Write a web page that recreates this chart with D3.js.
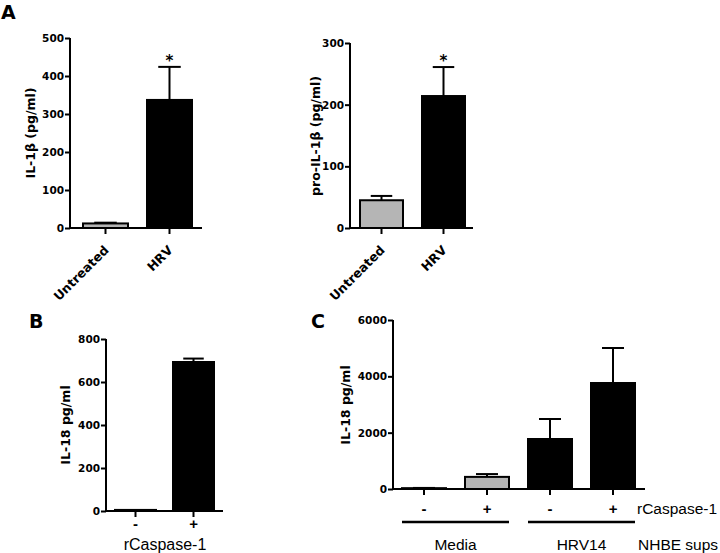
<!DOCTYPE html>
<html><head><meta charset="utf-8">
<script src="https://cdn.jsdelivr.net/npm/d3@7"></script>
<style>body{margin:0;background:#fff}svg{display:block}</style>
</head><body>
<script>
// ---- data ----
const a1Categories = ["Untreated", "HRV"];
const a1Values = [12, 337];
const a1Errors = [2, 87];
const a1Ticks = [0, 100, 200, 300, 400, 500];

const a2Categories = ["Untreated", "HRV"];
const a2Values = [45, 214];
const a2Errors = [7, 47];
const a2Ticks = [0, 100, 200, 300];

const bCategories = ["-", "+"];
const bValues = [5, 693];
const bErrors = [0, 16];
const bTicks = [0, 200, 400, 600, 800];

const cCategories = ["-", "+", "-", "+"];
const cValues = [30, 430, 1775, 3763];
const cErrors = [8, 100, 710, 1243];
const cTicks = [0, 2000, 4000, 6000];
const cGroups = ["Media", "HRV14"];

const GRAY = "#b5b5b5", BLACK = "#000";
const BOLD = "'DejaVu Sans', sans-serif";
const REG = "'Liberation Sans', Arial, sans-serif";
const W = 720, H = 553;
const svg = d3.select("body").append("svg").attr("width", W).attr("height", H)
  .style("font-family", REG);

function panel(o) {
  const n = o.cats.length;
  const p = 1 - o.bw / o.step, off = (o.firstBar - o.axisX) / o.step;
  const r1 = o.axisX + o.step * (n - p + 2 * off);
  const x = d3.scaleBand().domain(d3.range(n)).range([o.axisX, r1]).paddingInner(p).paddingOuter(off);
  const y = d3.scaleLinear().domain([0, o.max]).range([o.y0, o.yTop]);
  const g = svg.append("g");
  // bars
  g.selectAll("rect.bar").data(o.vals).join("rect")
    .attr("x", (d, i) => x(i)).attr("width", x.bandwidth())
    .attr("y", d => y(d)).attr("height", d => o.y0 - y(d))
    .attr("fill", (d, i) => o.fills[i]).attr("stroke", "#000").attr("stroke-width", 2);
  // error bars (upper)
  o.vals.forEach((v, i) => {
    const e = o.errs[i];
    if (e <= 0) return;
    const cx = x(i) + x.bandwidth() / 2, hw = x.bandwidth() / 4;
    g.append("line").attr("x1", cx).attr("x2", cx).attr("y1", y(v)).attr("y2", y(v + e))
      .attr("stroke", "#000").attr("stroke-width", 2);
    g.append("line").attr("x1", cx - hw).attr("x2", cx + hw).attr("y1", y(v + e)).attr("y2", y(v + e))
      .attr("stroke", "#000").attr("stroke-width", 2);
  });
  // y axis
  const ya = g.append("g").attr("transform", `translate(${o.axisX},0)`)
    .call(d3.axisLeft(y).tickValues(o.ticks).tickSize(5).tickPadding(1).tickSizeOuter(0).tickFormat(d3.format("d")));
  ya.select(".domain").attr("stroke-width", 2).attr("d", `M0,${o.y0 + 1}V${o.yTop}`);
  ya.selectAll(".tick line").attr("stroke-width", 2);
  ya.selectAll(".tick text").attr("font-size", 10.5).attr("font-weight", "bold").attr("fill", "#000")
    .attr("font-family", BOLD);
  // x axis
  const xa = g.append("g").attr("transform", `translate(0,${o.y0})`)
    .call(d3.axisBottom(x).tickSize(6).tickSizeOuter(0).tickFormat(i => o.cats[i]));
  xa.select(".domain").attr("stroke-width", 2).attr("d", `M${o.axisX - 1},0H${o.axisEnd}`);
  xa.selectAll(".tick line").attr("stroke-width", 2);
  const xt = xa.selectAll(".tick text").attr("fill", "#000");
  if (o.rotate) {
    xt.attr("font-size", 12.5).attr("font-weight", "bold").attr("font-family", BOLD).attr("text-anchor", "end")
      .attr("y", 0).attr("dy", 0).attr("transform", "translate(4,23) rotate(-45)");
  } else {
    xt.attr("font-size", 15).attr("font-weight", "bold").attr("font-family", REG).attr("y", o.xLabY - o.y0).attr("dy", "0.35em");
  }
  // y title
  svg.append("text").attr("transform", `translate(${o.titleX},${o.titleY}) rotate(-90)`)
    .attr("text-anchor", "middle").attr("font-size", 12.5).attr("font-weight", "bold")
    .attr("font-family", BOLD).text(o.title);
  // asterisks
  if (o.stars) o.stars.forEach(i => {
    const cx = x(i) + x.bandwidth() / 2;
    svg.append("text").attr("x", cx).attr("y", y(o.vals[i] + o.errs[i]) - 1).attr("text-anchor", "middle")
      .attr("font-size", 15).attr("font-weight", "bold").attr("font-family", BOLD).text("*");
  });
  return x;
}

// Panel A left
panel({cats: a1Categories, vals: a1Values, errs: a1Errors, ticks: a1Ticks, max: 500,
  fills: [GRAY, BLACK], axisX: 70, axisEnd: 202, firstBar: 83, step: 64, bw: 45,
  y0: 228, yTop: 38, rotate: true, title: "IL-1β (pg/ml)", titleX: 35, titleY: 133, stars: [1]});
// Panel A right
panel({cats: a2Categories, vals: a2Values, errs: a2Errors, ticks: a2Ticks, max: 300,
  fills: [GRAY, BLACK], axisX: 350, axisEnd: 473, firstBar: 360, step: 62, bw: 43,
  y0: 228, yTop: 43, rotate: true, title: "pro-IL-1β (pg/ml)", titleX: 320, titleY: 136, stars: [1]});
// Panel B
const xb = panel({cats: bCategories, vals: bValues, errs: bErrors, ticks: bTicks, max: 800,
  fills: [BLACK, BLACK], axisX: 106, axisEnd: 223, firstBar: 115, step: 58, bw: 41,
  y0: 511, yTop: 339, rotate: false, xLabY: 524, title: "IL-18 pg/ml", titleX: 70, titleY: 425});
// Panel C
const xc = panel({cats: cCategories, vals: cValues, errs: cErrors, ticks: cTicks, max: 6000,
  fills: [GRAY, GRAY, BLACK, BLACK], axisX: 393, axisEnd: 645, firstBar: 402, step: 63, bw: 44,
  y0: 489, yTop: 320, rotate: false, xLabY: 509, title: "IL-18 pg/ml", titleX: 350, titleY: 405});

// panel B extra label
svg.append("text").attr("x", 165).attr("y", 550).attr("text-anchor", "middle").attr("font-size", 16).text("rCaspase-1");
// panel C extra labels
svg.append("text").attr("x", 637).attr("y", 514).attr("font-size", 15.5).text("rCaspase-1");
cGroups.forEach((gname, gi) => {
  const l = xc(gi * 2), r = xc(gi * 2 + 1) + xc.bandwidth();
  svg.append("line").attr("x1", l).attr("x2", r).attr("y1", 522).attr("y2", 522).attr("stroke", "#000").attr("stroke-width", 2.5);
  svg.append("text").attr("x", (l + r) / 2).attr("y", 550).attr("text-anchor", "middle").attr("font-size", 15.5).text(gname);
});
svg.append("text").attr("x", 638).attr("y", 550).attr("font-size", 15.5).text("NHBE sups");

// panel letters
[["A", 1, 19], ["B", 29, 328], ["C", 311, 328]].forEach(([t, x, y]) =>
  svg.append("text").attr("x", x).attr("y", y).attr("font-size", 19).attr("font-weight", "bold")
    .attr("font-family", BOLD).text(t));
</script>
</body></html>
